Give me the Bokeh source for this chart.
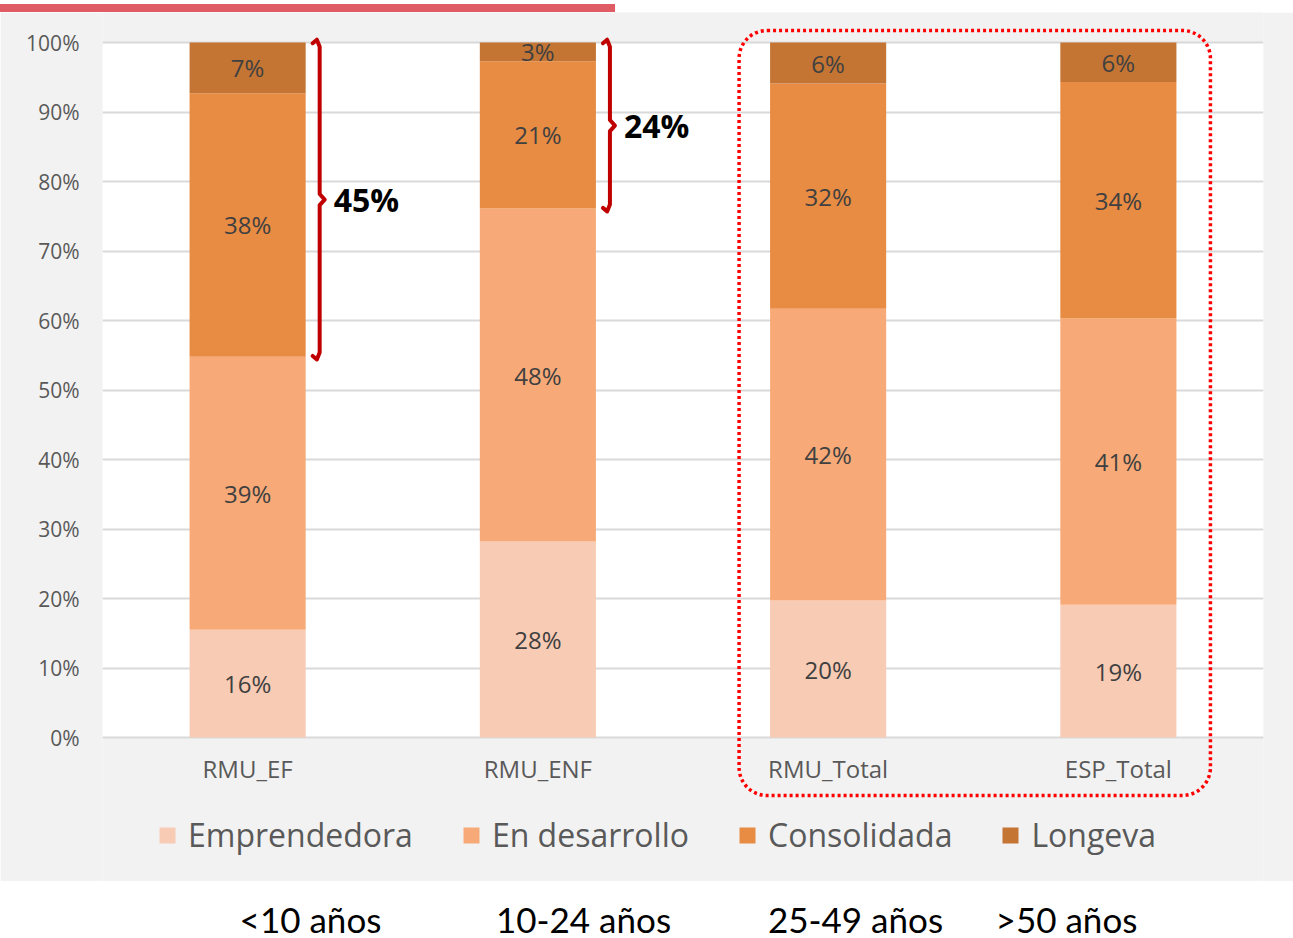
from bokeh.plotting import figure
from bokeh.models import (Range1d, FactorRange, FixedTicker, PrintfTickFormatter,
                          BoxAnnotation, Legend, LegendItem, ColumnDataSource, Div)
from bokeh.layouts import column
from bokeh.embed import file_html
from bokeh.resources import INLINE
from bokeh.core.properties import value

# ---------------- data ----------------
categories = ["RMU_EF", "RMU_ENF", "RMU_Total", "ESP_Total"]
series = ["Emprendedora", "En desarrollo", "Consolidada", "Longeva"]
emprendedora = [15.5, 28.2, 19.7, 19.1]
en_desarrollo = [39.3, 47.9, 42.0, 41.2]
consolidada = [37.9, 21.2, 32.4, 34.0]
longeva = [7.3, 2.7, 5.9, 5.7]
y_ticks = [0, 10, 20, 30, 40, 50, 60, 70, 80, 90, 100]
bracket_groups = ["RMU_EF", "RMU_ENF"]          # Consolidada + Longeva bracket
highlight_groups = ["RMU_Total", "ESP_Total"]   # dotted box
age_labels = ["<10 años", "10-24 años", "25-49 años", ">50 años"]

# ---------------- style ----------------
colors = ["#f8cbb4", "#f7aa78", "#e88b43", "#c47534"]
GRAY = "#f2f2f2"
GRID = "#d9d9d9"
FONT = "Open Sans"
BAR_W = 0.4
W = 1293

values = [emprendedora, en_desarrollo, consolidada, longeva]
src = ColumnDataSource(dict(cat=categories, **{s: v for s, v in zip(series, values)}))

# ---------- top strip (red bar) ----------
top_strip = Div(text='<div style="width:615px;height:8px;background:#e05c64;margin:0;"></div>',
                width=W, height=12, margin=0)

# ---------- main chart ----------
H1 = 869                      # page y 12 .. 881
TOP = 12
px_per_unit = (737 - 42) / 100.0
y_end = 100 + (42 - TOP) / px_per_unit
y_start = -((TOP + H1) - 737) / px_per_unit
px_per_cat = (1263 - 102) / len(categories)

p = figure(width=W, height=H1,
           x_range=FactorRange(*categories),
           y_range=Range1d(y_start, y_end),
           output_backend="svg", toolbar_location=None,
           min_border_left=102, min_border_right=W - 1263,
           min_border_top=0, min_border_bottom=0)
p.background_fill_color = GRAY
p.border_fill_color = GRAY
p.outline_line_color = None

# white plotting area 0..100
p.add_layout(BoxAnnotation(bottom=0, top=100, fill_color="white", fill_alpha=1,
                           line_color=None, level="image"))

# axes
p.yaxis.ticker = FixedTicker(ticks=y_ticks)
p.yaxis.formatter = PrintfTickFormatter(format="%d%%")
p.yaxis.major_label_standoff = 17
p.yaxis.major_label_text_font = FONT
p.yaxis.major_label_text_font_size = "21px"
p.yaxis.major_label_text_color = "#595959"
p.yaxis.axis_line_color = None
p.yaxis.major_tick_line_color = None
p.yaxis.minor_tick_line_color = None

p.xaxis.fixed_location = -1.0
p.xaxis.major_label_standoff = 2
p.xaxis.major_label_text_font = FONT
p.xaxis.major_label_text_font_size = "24px"
p.xaxis.major_label_text_color = "#595959"
p.xaxis.axis_line_color = None
p.xaxis.major_tick_line_color = None
p.xaxis.minor_tick_line_color = None

p.ygrid.ticker = FixedTicker(ticks=y_ticks)
p.ygrid.grid_line_color = GRID
p.ygrid.grid_line_width = 2
p.xgrid.visible = False

# stacked bars
renderers = p.vbar_stack(series, x="cat", width=BAR_W, color=colors,
                         line_color=None, source=src)

# data labels
lx, ly, lt = [], [], []
for i, c in enumerate(categories):
    base = 0.0
    for v in values:
        v_i = v[i]
        lx.append(c)
        ly.append(base + v_i / 2)
        lt.append(f"{int(v_i + 0.5)}%")
        base += v_i
p.text(x=lx, y=ly, text=lt, text_font=value(FONT), text_font_size="24px",
       text_color="#404040", text_align="center", text_baseline="middle")

# brackets for Consolidada + Longeva
bx, by, tx, ty, tt = [], [], [], [], []
for g in bracket_groups:
    i = categories.index(g)
    xc = i + 0.5
    xb = xc + BAR_W / 2 + 14 / px_per_cat
    bot = emprendedora[i] + en_desarrollo[i]
    top = bot + consolidada[i] + longeva[i]
    mid = (top + bot) / 2
    hx = 7 / px_per_cat
    nx = 5 / px_per_cat
    t0 = top + 0.4
    b0 = bot - 0.4
    bx.append([xb - hx, xb - hx * 0.4, xb, xb, xb + nx, xb, xb, xb - hx * 0.4, xb - hx])
    by.append([t0 - 0.5, t0, t0 - 1.0, mid + 0.8, mid, mid - 0.8, b0 + 1.0, b0, b0 + 0.5])
    tx.append(xb + 14 / px_per_cat)
    ty.append(mid)
    tt.append(f"{int(consolidada[i] + longeva[i] + 0.5)}%")
p.multi_line(xs=bx, ys=by, line_color="#c00000", line_width=4,
             line_join="round", line_cap="round")
p.text(x=tx, y=ty, text=tt, text_font=value(FONT), text_font_size="32px",
       text_font_style="bold", text_color="black", text_align="left",
       text_baseline="middle")

# dotted rounded box around totals
i0 = categories.index(highlight_groups[0])
i1 = categories.index(highlight_groups[-1])
p.add_layout(BoxAnnotation(left=i0 + 0.5 - BAR_W / 2 - 31 / px_per_cat,
                           right=i1 + 0.5 + BAR_W / 2 + 34 / px_per_cat,
                           top=100 + 12 / px_per_unit,
                           bottom=-58 / px_per_unit,
                           fill_alpha=0, line_color="#ff0000", line_alpha=1,
                           line_width=3.5, line_dash="3 3", border_radius=28))

# legend
legend = Legend(items=[LegendItem(label=s, renderers=[r]) for s, r in zip(series, renderers)],
                location=(55, 25), orientation="horizontal",
                label_text_font=FONT, label_text_font_size="32px",
                label_text_color="#595959", glyph_width=20, glyph_height=20,
                label_standoff=11, spacing=48, padding=0, margin=0,
                background_fill_alpha=0, border_line_color=None)
p.add_layout(legend)

# ---------- age labels under the chart ----------
H2 = 938 - 12 - H1
p2 = figure(width=W, height=H2, x_range=p.x_range, y_range=Range1d(0, H2),
            output_backend="svg", toolbar_location=None,
            x_axis_type=None, y_axis_type=None,
            min_border_left=102, min_border_right=W - 1263,
            min_border_top=0, min_border_bottom=0)
p2.background_fill_color = "white"
p2.border_fill_color = "white"
p2.outline_line_color = None
p2.grid.visible = False
age_x = [(310 - 102) / px_per_cat, (583 - 102) / px_per_cat,
         (855 - 102) / px_per_cat, (1066 - 102) / px_per_cat]
p2.text(x=age_x, y=[H2 - (918 - 881)] * len(age_labels), text=age_labels,
        text_font=value("Lato"), text_font_size="35px", text_color="black",
        text_align="center", text_baseline="middle")

layout = column(top_strip, p, p2, spacing=0)
open("out.html", "w").write(file_html(layout, INLINE))
